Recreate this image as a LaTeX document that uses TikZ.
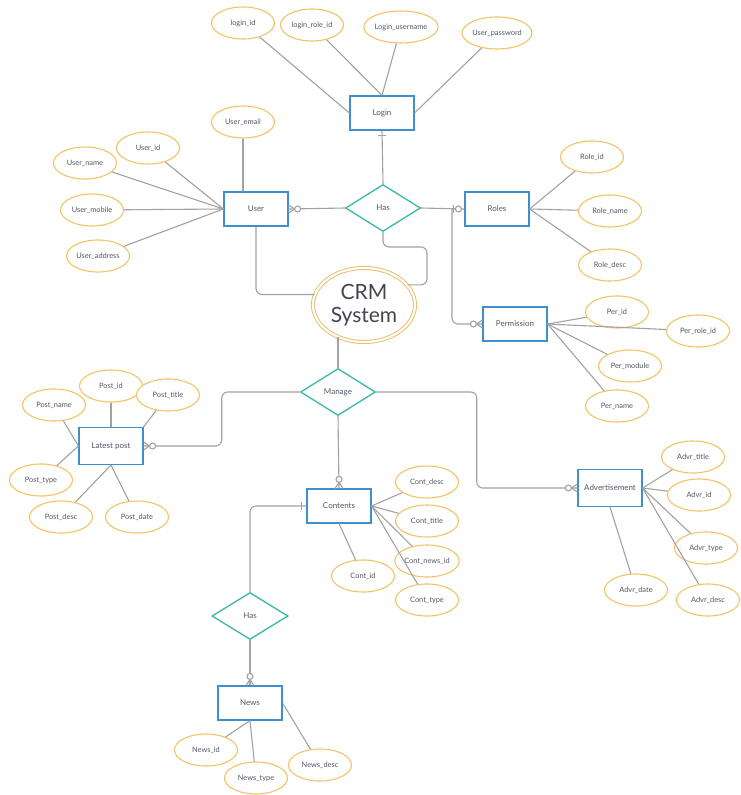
\documentclass[tikz,border=0pt]{standalone}
\usepackage{fontspec}
\setmainfont{Lato}
\usetikzlibrary{shapes.geometric,calc}

\definecolor{boxblue}{HTML}{3E8ED0}
\definecolor{relteal}{HTML}{3DB5A8}
\definecolor{attrorange}{HTML}{F3C366}
\definecolor{linkgray}{HTML}{A2A2A2}
\definecolor{txt}{HTML}{505766}

\tikzset{
  entity/.style={draw=boxblue, line width=1.2pt, fill=white, minimum width=64pt,
    minimum height=34pt, inner sep=0pt, text=txt, font=\fontsize{8}{9.5}\selectfont},
  relation/.style={diamond, draw=relteal, line width=1.3pt, fill=white,
    minimum width=75pt, minimum height=47pt, inner sep=0pt, text=txt,
    font=\fontsize{8}{9.5}\selectfont},
  attr/.style={ellipse, draw=attrorange, line width=1.1pt, fill=white,
    minimum width=63pt, minimum height=32pt, inner sep=0pt, text=txt,
    font=\fontsize{7.4}{8.5}\selectfont},
  hub/.style={ellipse, draw=attrorange!85!brown, line width=0.9pt, double=white,
    double distance=2.2pt, fill=white, minimum width=102pt, minimum height=74pt,
    inner sep=0pt, text=txt!80!black, align=center,
    font=\fontsize{21}{23}\selectfont},
  lnk/.style={draw=linkgray, line width=1.1pt},
  elbow/.style={lnk, rounded corners=6pt},
  % cardinality marks, drawn outward along +x from an entity border
  pics/zeromany/.style={code={
      \draw[lnk] (0,-4) -- (6,0) -- (0,4);
      \draw[lnk, fill=white] (9,0) circle (3pt);}},
  pics/zeroone/.style={code={
      \draw[lnk, fill=white] (6,0) circle (3pt);
      \draw[lnk] (11,-4) -- (11,4);}},
  pics/onebar/.style={code={
      \draw[lnk] (5,-4) -- (5,4);}},
}

\begin{document}
\begin{tikzpicture}[x=1pt, y=-1pt]
\useasboundingbox[fill=white] (0,0) rectangle (740,795);

% ---------- entities ----------
\node[entity] (login) at (382,113) {Login};
\node[entity] (user) at (256,209) {User};
\node[entity] (roles) at (497,209) {Roles};
\node[entity] (perm) at (515,324) {Permission};
\node[entity, minimum height=37pt] (latest) at (111,446) {Latest post};
\node[entity] (contents) at (339,506) {Contents};
\node[entity, minimum height=37pt] (adv) at (610,488) {Advertisement};
\node[entity] (news) at (250,703) {News};

% ---------- relationships ----------
\node[relation] (has) at (383,208) {Has};
\node[relation] (manage) at (338,392) {Manage};
\node[relation, minimum width=76pt] (has2) at (250,616) {Has};

\node[hub] (crm) at (364,305) {CRM\\System};

% ---------- attributes ----------
\node[attr] (loginid) at (243,23) {login\_id};
\node[attr] (loginrole) at (312,25) {login\_role\_id};
\node[attr] (loginuser) at (401,27) {Login\_username};
\node[attr] (userpw) at (497,33) {User\_password};

\node[attr] (useremail) at (243,122) {User\_email};
\node[attr] (userid) at (148,148) {User\_id};
\node[attr] (username) at (85,163) {User\_name};
\node[attr] (usermobile) at (92,210) {User\_mobile};
\node[attr] (useraddr) at (98,256) {User\_address};

\node[attr] (roleid) at (592,157) {Role\_id};
\node[attr] (rolename) at (610,211) {Role\_name};
\node[attr] (roledesc) at (610,265) {Role\_desc};

\node[attr] (perid) at (617,312) {Per\_id};
\node[attr] (perrole) at (698,331) {Per\_role\_id};
\node[attr] (permod) at (630,366) {Per\_module};
\node[attr] (pername) at (617,406) {Per\_name};

\node[attr] (postid) at (111,386) {Post\_id};
\node[attr] (posttitle) at (168,395) {Post\_title};
\node[attr] (postname) at (54,405) {Post\_name};
\node[attr] (posttype) at (41,480) {Post\_type};
\node[attr] (postdesc) at (61,517) {Post\_desc};
\node[attr] (postdate) at (137,517) {Post\_date};

\node[attr] (contdesc) at (427,482) {Cont\_desc};
\node[attr] (conttitle) at (427,521) {Cont\_title};
\node[attr] (contnews) at (427,561) {Cont\_news\_id};
\node[attr] (conttype) at (427,600) {Cont\_type};
\node[attr] (contid) at (363,576) {Cont\_id};

\node[attr] (advtitle) at (693,457) {Advr\_title};
\node[attr] (advid) at (699,495) {Advr\_id};
\node[attr] (advtype) at (706,548) {Advr\_type};
\node[attr] (advdesc) at (708,600) {Advr\_desc};
\node[attr] (advdate) at (636,590) {Advr\_date};

\node[attr] (newsid) at (206,750) {News\_id};
\node[attr] (newstype) at (256,778) {News\_type};
\node[attr] (newsdesc) at (320,765) {News\_desc};

% ---------- attribute links ----------
\draw[lnk] (loginid) -- (login.west);
\draw[lnk] (loginrole) -- (login.north);
\draw[lnk] (loginuser) -- (login.north);
\draw[lnk] (userpw) -- (login.east);

\draw[lnk] (useremail) -- (useremail |- user.north);
\draw[lnk] (userid) -- (user.west);
\draw[lnk] (username) -- (user.west);
\draw[lnk] (usermobile) -- (user.west);
\draw[lnk] (useraddr) -- (user.west);

\draw[lnk] (roleid) -- (roles.east);
\draw[lnk] (rolename) -- (roles.east);
\draw[lnk] (roledesc) -- (roles.east);

\draw[lnk] (perid) -- (perm.east);
\draw[lnk] (perrole) -- (perm.east);
\draw[lnk] (permod) -- (perm.east);
\draw[lnk] (pername) -- (perm.east);

\draw[lnk] (postid) -- (latest.north);
\draw[lnk] (posttitle) -- (latest.north east);
\draw[lnk] (postname) -- (latest.west);
\draw[lnk] (posttype) -- (latest.west);
\draw[lnk] (postdesc) -- (latest.south);
\draw[lnk] (postdate) -- (latest.south);

\draw[lnk] (contdesc) -- (contents.east);
\draw[lnk] (conttitle) -- (contents.east);
\draw[lnk] (contnews) -- (contents.east);
\draw[lnk] (conttype) -- (contents.east);
\draw[lnk] (contid) -- (contents.south);

\draw[lnk] (advtitle) -- (adv.east);
\draw[lnk] (advid) -- (adv.east);
\draw[lnk] (advtype) -- (adv.east);
\draw[lnk] (advdesc) -- (adv.east);
\draw[lnk] (advdate) -- (adv.south);

\draw[lnk] (newsid) -- (news.south);
\draw[lnk] (newstype) -- (news.south);
\draw[lnk] (newsdesc) -- (news.east);

% ---------- relationship links ----------
\draw[lnk] (has.north) -- (login.south);
\draw[lnk] (user.east) -- (has.west);
\draw[lnk] (has.east) -- (roles.west);
\coordinate (branch) at (452,209);
\draw[elbow] (branch) |- (perm.west);
\coordinate (hasbend) at (427,247);
\draw[elbow] (has.south) |- (hasbend) |- (crm.25);
\draw[elbow] (user.south) |- (crm.168);
\draw[lnk] (manage.north) -- (crm.229 -| manage.north);
\draw[elbow] (manage.west) -| ($(manage.west)!.5!(latest.east)$) |- (latest.east);
\draw[elbow] (manage.east) -| ($(manage.east)!.5!(adv.west)$) |- (adv.west);
\draw[lnk] (manage.south) -- (contents.north);
\draw[elbow] (contents.west) -| (has2.north);
\draw[lnk] (has2.south) -- (news.north);

% ---------- cardinality marks ----------
\pic at (user.east) {zeromany};
\pic[rotate=-90] at (login.south) {onebar};
\pic[rotate=180] at (roles.west) {zeroone};
\pic[rotate=180] at (perm.west) {zeromany};
\pic at (latest.east) {zeromany};
\pic[rotate=180] at (adv.west) {zeromany};
\pic[rotate=90] at (contents.north) {zeromany};
\pic[rotate=180] at (contents.west) {onebar};
\pic[rotate=90] at (news.north) {zeromany};
\end{tikzpicture}
\end{document}
